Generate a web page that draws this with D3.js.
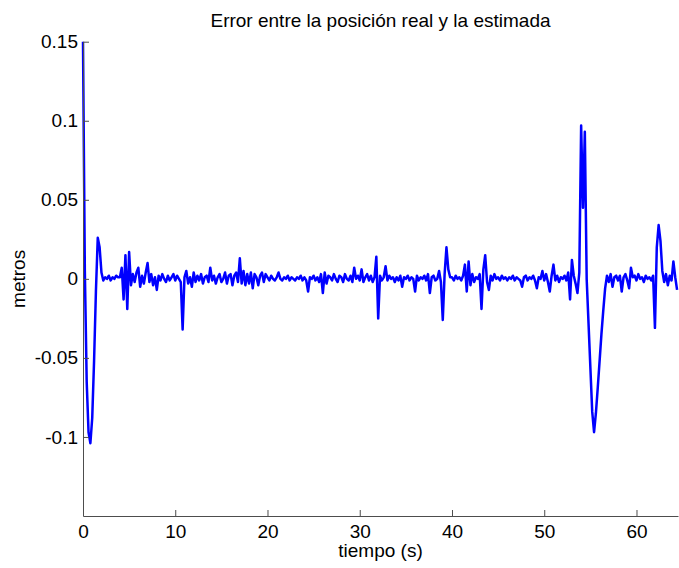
<!DOCTYPE html>
<html>
<head>
<meta charset="utf-8">
<script src="https://cdn.jsdelivr.net/npm/d3@7"></script>
<style>
  html, body { margin: 0; padding: 0; background: #fff; }
  svg { display: block; }
  text { font-family: "Liberation Sans", Arial, sans-serif; fill: #000; }
</style>
</head>
<body>
<svg id="chart" width="679" height="568"></svg>
<script>
// Error de posición (mm), muestreado cada 0.2 s desde t = 0
const periodoMuestreo = 0.2;
const errorMm = [
  150, 5, -65, -97, -104, -88, -52, -8, 26, 20,
  4, -1, 1, 0, 2, -1, 1, 0, 2, 1,
  1, 7, -13, 15, -19, 17, -4, 3, -2, 4,
  7, -5, 2, -3, 4, 10, -2, 3, -4, 1,
  -7, 2, -1, 3, 0, -2, 2, -1, 1, 3,
  -1, 2, 0, -2, -32, 1, 5, -3, 1, -5,
  4, -2, 2, -1, 3, -3, 1, 2, -2, 7,
  -1, 2, -3, 1, 3, -2, 0, 4, -3, 2,
  3, -4, 2, 4, -2, 13, -3, 5, -4, 3,
  -3, 4, -6, 3, 1, -4, 2, 4, -2, 3,
  1, -1, 2, 0, -1, 1, 4, 0, -1, 1,
  0, 2, -1, 1, 0, -1, 1, 0, 2, -1,
  1, -1, -8, 1, 0, 2, -1, 1, -2, 3,
  -9, 4, -3, 2, 1, -1, 3, 0, -2, 2,
  1, -2, 3, 0, -1, 2, -2, 7, 0, 2,
  -1, 6, -2, 1, 3, -1, 2, -2, 1, 14,
  -25, 2, -1, 1, 8, -1, 2, 0, 1, -2,
  1, -1, 2, -5, 1, 0, 2, -1, 1, 0,
  -8, 2, -1, 1, 0, 2, -1, 3, -9, 1,
  2, -1, 0, 5, -2, -26, 3, 20, 6, 1,
  1, -1, 2, 0, 1, -1, 2, 9, -8, 11,
  -4, 3, -2, 1, 0, 3, -19, 6, 15, -2,
  -7, 2, -1, 3, 0, 1, -1, 2, 0, 1,
  -1, 1, 0, 2, -1, 1, 0, -1, -5, 1,
  2, -1, 1, 0, 2, -1, -6, 1, 0, 5,
  -1, 3, -2, -8, 2, 9, -1, 2, -2, 1,
  0, 2, -1, 4, -13, 12, 2, -3, -9, 4,
  97, 45, 93, 0, -28, -56, -84, -97, -85, -69,
  -52, -35, -20, -6, 2, -2, 3, -5, 1, 2,
  -1, 2, -8, 1, 3, -1, -6, 7, 1, 2,
  -1, 3, 0, 1, -2, 2, 0, 1, -1, 2,
  -31, 20, 34, 24, 5, -2, 3, -4, 2, -1,
  11, 1, -7
];

const xTicks = [0, 10, 20, 30, 40, 50, 60];
const yTicks = [-0.1, -0.05, 0, 0.05, 0.1, 0.15];
const yTickLabels = ["-0.1", "-0.05", "0", "0.05", "0.1", "0.15"];
const xDomain = [0, 64.5];
const yDomain = [-0.15, 0.15];

const titulo = "Error entre la posición real y la estimada";
const etiquetaX = "tiempo (s)";
const etiquetaY = "metros";

const serie = errorMm.map((v, i) => ({ t: i * periodoMuestreo, e: v / 1000 }));

const svg = d3.select("#chart");
const margin = { left: 83, right: 1, top: 41.7, bottom: 52 };
const W = 679, H = 568;

const x = d3.scaleLinear().domain(xDomain).range([margin.left, W - margin.right]);
const y = d3.scaleLinear().domain(yDomain).range([H - margin.bottom, margin.top]);

const axisColor = "#4d4d4d";
const fontSize = 19;

// curve
svg.append("path")
  .datum(serie)
  .attr("fill", "none")
  .attr("stroke", "#0000ff")
  .attr("stroke-width", 2.5)
  .attr("stroke-linejoin", "round")
  .attr("d", d3.line().x(d => x(d.t)).y(d => y(d.e)));

// x axis, ticks pointing inward
const gx = svg.append("g")
  .attr("transform", `translate(0,${H - margin.bottom})`)
  .call(d3.axisBottom(x).tickValues(xTicks).tickFormat(d3.format("d"))
    .tickSize(-6).tickSizeOuter(0).tickPadding(8.5));

// y axis, ticks pointing inward
const gy = svg.append("g")
  .attr("transform", `translate(${margin.left},0)`)
  .call(d3.axisLeft(y).tickValues(yTicks).tickFormat((d, i) => yTickLabels[i])
    .tickSize(-6).tickSizeOuter(0).tickPadding(5));

[gx, gy].forEach(g => {
  g.select(".domain").attr("stroke", axisColor).attr("stroke-width", 1);
  g.selectAll(".tick line").attr("stroke", axisColor);
  g.selectAll(".tick text")
    .attr("fill", "#000")
    .style("font-family", '"Liberation Sans", Arial, sans-serif')
    .style("font-size", fontSize + "px");
});

// title
svg.append("text")
  .attr("x", (x.range()[0] + x.range()[1]) / 2)
  .attr("y", 26.5)
  .attr("text-anchor", "middle")
  .style("font-size", fontSize + "px")
  .text(titulo);

// x label
svg.append("text")
  .attr("x", (x.range()[0] + x.range()[1]) / 2)
  .attr("y", 557)
  .attr("text-anchor", "middle")
  .style("font-size", fontSize + "px")
  .text(etiquetaX);

// y label
svg.append("text")
  .attr("transform", `translate(25,${(y.range()[0] + y.range()[1]) / 2}) rotate(-90)`)
  .attr("text-anchor", "middle")
  .style("font-size", fontSize + "px")
  .text(etiquetaY);
</script>
</body>
</html>
